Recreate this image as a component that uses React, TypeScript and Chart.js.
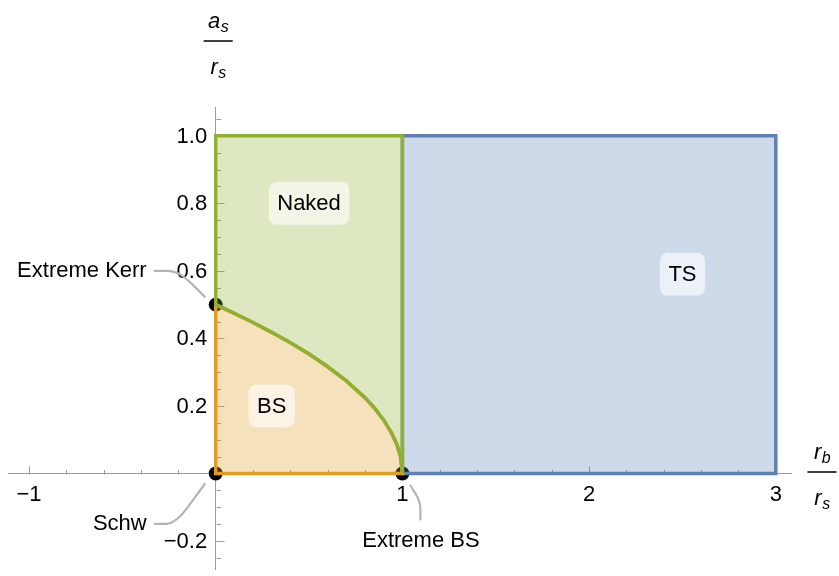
import React, { useEffect, useRef } from 'react';
import { Chart, registerables } from 'chart.js';

Chart.register(...registerables);

// ---------------- data ----------------
// boundary between BS and Naked regions (a_s/r_s vs r_b/r_s)
const boundaryX = [0, 0.1, 0.2, 0.3, 0.4, 0.5, 0.6, 0.7, 0.8, 0.85, 0.9, 0.94, 0.97, 0.99, 1.0];
const boundaryY = [0.5, 0.474, 0.447, 0.418, 0.387, 0.354, 0.316, 0.274, 0.224, 0.194, 0.158, 0.122, 0.087, 0.05, 0];
// TS region rectangle
const tsRegionX = [1, 3, 3, 1, 1];
const tsRegionY = [0, 0, 1, 1, 0];
// Naked region top corners
const nakedTopX = [1, 0];
const nakedTopY = [1, 1];
// BS region corner
const bsCornerX = [0];
const bsCornerY = [0];
// region labels
const regionNames = ['Naked', 'BS', 'TS'];
const regionLabelX = [0.5, 0.3, 2.5];
const regionLabelY = [0.8, 0.2, 0.59];
// special points
const specialNames = ['Extreme Kerr', 'Schw', 'Extreme BS'];
const specialX = [0, 0, 1];
const specialY = [0.5, 0, 0];
// ticks
const xTickValues = [-1, 1, 2, 3];
const xTickLabels = ['\u22121', '1', '2', '3'];
const yTickValues = [-0.2, 0.2, 0.4, 0.6, 0.8, 1.0];
const yTickLabels = ['\u22120.2', '0.2', '0.4', '0.6', '0.8', '1.0'];
const xMinorStep = 0.2;
const xMajorStep = 1;
const yMinorStep = 0.05;
const yMajorStep = 0.2;

// ---------------- style / layout ----------------
const X_MIN = -1.1125;
const X_MAX = 3.0815;
const Y_MIN = -0.2827;
const Y_MAX = 1.0851;
const FONT = '"Liberation Sans", Arial, Helvetica, sans-serif';
const FS = 22;
const AXIS = '#9a9a9a';
const TS_C = '#5E81B5';
const BS_C = '#E19C24';
const NK_C = '#8FB032';
const fillOf = (hex: string, a: number) => {
  const r = parseInt(hex.slice(1, 3), 16), g = parseInt(hex.slice(3, 5), 16), b = parseInt(hex.slice(5, 7), 16);
  return `rgba(${r},${g},${b},${a})`;
};

// callout geometry, offsets in px relative to the anchor point
const calloutLayout = [
  { text: [-69, -33.7], align: 'right', path: [[-61, -33.7], [-37, -33.7], [-11, -8]] },
  { text: [-69, 50.3], align: 'right', path: [[-61, 50.3], [-40, 50.3], [-11, 10.5]] },
  { text: [18.5, 67.5], align: 'center', path: [[8, 12], [18, 28], [18, 46]] },
];

const toPts = (xs: number[], ys: number[]) => xs.map((x, i) => ({ x, y: ys[i] }));

function roundRect(ctx: CanvasRenderingContext2D, x: number, y: number, w: number, h: number, r: number) {
  ctx.beginPath();
  ctx.moveTo(x + r, y);
  ctx.lineTo(x + w - r, y);
  ctx.quadraticCurveTo(x + w, y, x + w, y + r);
  ctx.lineTo(x + w, y + h - r);
  ctx.quadraticCurveTo(x + w, y + h, x + w - r, y + h);
  ctx.lineTo(x + r, y + h);
  ctx.quadraticCurveTo(x, y + h, x, y + h - r);
  ctx.lineTo(x, y + r);
  ctx.quadraticCurveTo(x, y, x + r, y);
  ctx.closePath();
}

function drawFrac(ctx: CanvasRenderingContext2D, cx: number, barY: number, nMain: string, nSub: string, dMain: string, dSub: string, barW: number) {
  const mainFont = `italic ${FS}px ${FONT}`;
  const subFont = `italic ${Math.round(FS * 0.72)}px ${FONT}`;
  const part = (main: string, sub: string, base: number) => {
    ctx.font = mainFont;
    const w1 = ctx.measureText(main).width;
    ctx.font = subFont;
    const w2 = ctx.measureText(sub).width;
    const left = cx - (w1 + w2) / 2;
    ctx.font = mainFont;
    ctx.fillText(main, left, base);
    ctx.font = subFont;
    ctx.fillText(sub, left + w1 + 0.5, base + 4);
  };
  ctx.fillStyle = '#000';
  ctx.textAlign = 'left';
  ctx.textBaseline = 'alphabetic';
  part(nMain, nSub, barY - 13.5);
  part(dMain, dSub, barY + 33);
  ctx.strokeStyle = '#000';
  ctx.lineWidth = 1.5;
  ctx.beginPath();
  ctx.moveTo(cx - barW / 2, barY);
  ctx.lineTo(cx + barW / 2, barY);
  ctx.stroke();
}

const overlayPlugin = {
  id: 'overlay',
  beforeDatasetsDraw(chart: any) {
    const { ctx } = chart;
    const xs = chart.scales.x;
    const ys = chart.scales.y;
    const x0 = Math.round(xs.getPixelForValue(0)) + 0.5;
    const y0 = Math.round(ys.getPixelForValue(0)) + 0.5;
    ctx.save();
    ctx.strokeStyle = AXIS;
    ctx.lineWidth = 1;
    ctx.beginPath();
    for (let k = Math.ceil(X_MIN / xMinorStep); k * xMinorStep <= X_MAX; k++) {
      const v = k * xMinorStep;
      if (Math.abs(v) < 1e-9) continue;
      const major = Math.abs(v / xMajorStep - Math.round(v / xMajorStep)) < 1e-6;
      const p = Math.round(xs.getPixelForValue(v)) + 0.5;
      ctx.moveTo(p, y0);
      ctx.lineTo(p, y0 - (major ? 8 : 4.5));
    }
    for (let k = Math.ceil(Y_MIN / yMinorStep); k * yMinorStep <= Y_MAX; k++) {
      const v = k * yMinorStep;
      if (Math.abs(v) < 1e-9) continue;
      const major = Math.abs(v / yMajorStep - Math.round(v / yMajorStep)) < 1e-6;
      const p = Math.round(ys.getPixelForValue(v)) + 0.5;
      ctx.moveTo(x0, p);
      ctx.lineTo(x0 + (major ? 8 : 4.5), p);
    }
    ctx.stroke();
    ctx.restore();
  },
  afterDraw(chart: any) {
    const { ctx } = chart;
    const xs = chart.scales.x;
    const ys = chart.scales.y;
    const x0 = xs.getPixelForValue(0);
    const y0 = ys.getPixelForValue(0);
    ctx.save();
    // y tick labels
    ctx.font = `${FS}px ${FONT}`;
    ctx.fillStyle = '#000';
    ctx.textAlign = 'right';
    ctx.textBaseline = 'middle';
    yTickValues.forEach((v, i) => {
      ctx.fillText(yTickLabels[i], x0 - 8.5, ys.getPixelForValue(v) + 1);
    });
    // region labels
    ctx.textAlign = 'center';
    regionNames.forEach((name, i) => {
      const cx = xs.getPixelForValue(regionLabelX[i]);
      const cy = ys.getPixelForValue(regionLabelY[i]);
      ctx.font = `${FS}px ${FONT}`;
      const w = Math.max(ctx.measureText(name).width + 17, 43);
      const h = 43;
      ctx.fillStyle = 'rgba(255,255,255,0.6)';
      roundRect(ctx, cx - w / 2, cy - h / 2, w, h, 9);
      ctx.fill();
      ctx.fillStyle = '#000';
      ctx.fillText(name, cx, cy + 1);
    });
    // callouts
    specialNames.forEach((name, i) => {
      const ax = xs.getPixelForValue(specialX[i]);
      const ay = ys.getPixelForValue(specialY[i]);
      const L = calloutLayout[i];
      const [p0, p1, p2] = L.path.map(([dx, dy]) => [ax + dx, ay + dy]);
      const t = 0.45;
      const a = [p1[0] + (p0[0] - p1[0]) * t, p1[1] + (p0[1] - p1[1]) * t];
      const b = [p1[0] + (p2[0] - p1[0]) * t, p1[1] + (p2[1] - p1[1]) * t];
      ctx.strokeStyle = '#b4b4b4';
      ctx.lineWidth = 2.2;
      ctx.lineCap = 'round';
      ctx.beginPath();
      ctx.moveTo(p0[0], p0[1]);
      ctx.lineTo(a[0], a[1]);
      ctx.quadraticCurveTo(p1[0], p1[1], b[0], b[1]);
      ctx.lineTo(p2[0], p2[1]);
      ctx.stroke();
      ctx.fillStyle = '#000';
      ctx.font = `${FS}px ${FONT}`;
      ctx.textAlign = L.align as CanvasTextAlign;
      ctx.textBaseline = 'middle';
      ctx.fillText(name, ax + L.text[0], ay + L.text[1]);
    });
    // axis titles as fractions
    drawFrac(ctx, x0 + 2.5, 41, 'a', 's', 'r', 's', 28);
    drawFrac(ctx, 822, y0 - 1.5, 'r', 'b', 'r', 's', 28);
    ctx.restore();
  },
};

export default function App() {
  const ref = useRef<HTMLCanvasElement>(null);
  useEffect(() => {
    const nakedX = [...nakedTopX, ...boundaryX, nakedTopX[0]];
    const nakedY = [...nakedTopY, ...boundaryY, nakedTopY[0]];
    const bsX = [...bsCornerX, ...boundaryX, bsCornerX[0]];
    const bsY = [...bsCornerY, ...boundaryY, bsCornerY[0]];
    const lineCommon = {
      showLine: true,
      fill: 'shape',
      borderWidth: 3.5,
      pointRadius: 0,
      pointHoverRadius: 0,
      tension: 0,
      borderJoinStyle: 'miter',
      borderCapStyle: 'square',
      clip: false,
    };
    const zeroPad = (s: any) => {
      s.paddingLeft = 0;
      s.paddingRight = 0;
      s.paddingTop = 0;
      s.paddingBottom = 0;
    };
    const chart = new Chart(ref.current as HTMLCanvasElement, {
      type: 'scatter',
      data: {
        datasets: [
          { ...lineCommon, label: 'Naked', data: toPts(nakedX, nakedY), borderColor: NK_C, backgroundColor: fillOf(NK_C, 0.3), order: 0 } as any,
          { ...lineCommon, label: 'BS', data: toPts(bsX, bsY), borderColor: BS_C, backgroundColor: fillOf(BS_C, 0.3), order: 1 } as any,
          { ...lineCommon, label: 'TS', data: toPts(tsRegionX, tsRegionY), borderColor: TS_C, backgroundColor: fillOf(TS_C, 0.3), order: 2 } as any,
          {
            label: 'points',
            data: toPts(specialX, specialY),
            showLine: false,
            pointRadius: 7,
            pointHoverRadius: 7,
            pointBackgroundColor: '#000',
            pointBorderWidth: 0,
            order: 3,
            clip: false,
          } as any,
        ],
      },
      options: {
        animation: false,
        responsive: false,
        devicePixelRatio: 1,
        events: [],
        layout: { padding: { left: 8, right: 48, top: 107, bottom: 3 } },
        plugins: { legend: { display: false }, tooltip: { enabled: false } },
        scales: {
          x: {
            type: 'linear',
            min: X_MIN,
            max: X_MAX,
            position: { y: 0 } as any,
            grid: { display: false, drawTicks: false },
            border: { display: true, color: AXIS, width: 1 },
            ticks: {
              color: '#000',
              font: { family: FONT, size: FS },
              padding: 8,
              maxRotation: 0,
              autoSkip: false,
              callback: (v: any) => {
                const i = xTickValues.indexOf(Number(v));
                return i >= 0 ? xTickLabels[i] : '';
              },
            },
            afterBuildTicks: (s: any) => {
              s.ticks = xTickValues.map((v) => ({ value: v }));
            },
            afterFit: zeroPad,
          },
          y: {
            type: 'linear',
            min: Y_MIN,
            max: Y_MAX,
            position: { x: 0 } as any,
            grid: { display: false, drawTicks: false },
            border: { display: true, color: AXIS, width: 1 },
            ticks: { display: false },
            afterBuildTicks: (s: any) => {
              s.ticks = yTickValues.map((v) => ({ value: v }));
            },
            afterFit: zeroPad,
          },
        },
      },
      plugins: [overlayPlugin],
    });
    return () => chart.destroy();
  }, []);
  return (
    <div style={{ position: 'fixed', left: 0, top: 0, width: 839, height: 576, background: '#fff' }}>
      <canvas ref={ref} width={839} height={576} style={{ display: 'block', width: 839, height: 576 }} />
    </div>
  );
}
